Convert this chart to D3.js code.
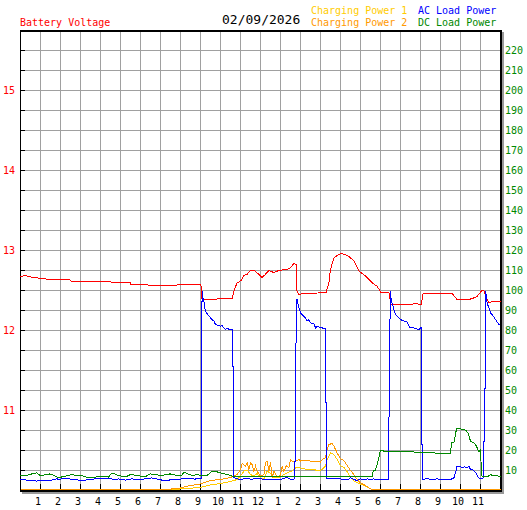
<!DOCTYPE html>
<html>
<head>
<meta charset="utf-8">
<script src="https://cdn.jsdelivr.net/npm/d3@7"></script>
<style>
  body { margin: 0; background: #fff; }
  svg text { font-family: "DejaVu Sans Mono", "Liberation Mono", monospace; }
</style>
</head>
<body>
<svg id="chart" width="527" height="510"></svg>
<script>
// hour labels along the bottom (1..12, 1..11)
var hourTicks = d3.range(1, 24);
var hourLabels = hourTicks.map(function (h) { return ((h - 1) % 12) + 1; });
var voltTicks = [11, 12, 13, 14, 15];
var powerTicks = d3.range(10, 230, 10);
var dateLabel = "02/09/2026";

// [hour, volts]
var batteryVoltage = [
  [0, 12.66], [0.23, 12.675], [0.65, 12.65], [1.32, 12.63], [2.4, 12.63], [2.57, 12.6], [4.48, 12.6],
  [4.57, 12.585], [5.48, 12.585], [5.52, 12.56], [7.73, 12.55], [7.9, 12.56], [9.02, 12.56],
  [9.08, 12.375], [9.33, 12.37], [9.97, 12.385], [10.58, 12.385], [10.67, 12.48], [10.83, 12.585],
  [11.0, 12.6], [11.17, 12.675], [11.33, 12.69], [11.5, 12.74], [11.67, 12.74], [11.92, 12.69],
  [12.08, 12.65], [12.25, 12.69], [12.42, 12.74], [12.67, 12.71], [12.92, 12.74], [13.33, 12.75],
  [13.5, 12.77], [13.67, 12.825], [13.78, 12.81], [13.82, 12.48], [13.92, 12.44], [14.17, 12.45],
  [15.28, 12.46], [15.42, 12.585], [15.5, 12.75], [15.67, 12.895], [15.92, 12.94], [16.08, 12.95],
  [16.42, 12.915], [16.67, 12.855], [16.92, 12.73], [17.25, 12.67], [17.58, 12.585], [17.83, 12.54],
  [18.03, 12.46], [18.42, 12.46], [18.53, 12.31], [19.58, 12.31], [19.65, 12.325], [19.83, 12.325],
  [19.9, 12.31], [20.03, 12.31], [20.13, 12.45], [21.58, 12.45], [21.83, 12.375], [22.42, 12.375],
  [22.67, 12.395], [22.83, 12.415], [23.08, 12.49], [23.17, 12.49], [23.3, 12.395], [23.42, 12.34],
  [23.67, 12.35], [24, 12.35]
];

// [hour, watts]
var chargingPower1 = [
  [0, 0], [7.8, 0], [8.0, 0.3], [9.0, 1.0], [9.5, 2.3], [10.0, 3], [10.5, 4.0], [10.83, 5], [11.0, 6.7],
  [11.17, 9.2], [11.33, 9.7], [11.5, 7.5], [11.67, 6.7], [11.83, 8], [12.0, 5.8], [12.17, 5.3],
  [12.33, 9.2], [12.5, 8], [12.67, 5.8], [13.0, 6.3], [13.25, 8], [13.42, 8.7], [13.58, 9.2],
  [13.75, 10.8], [14.0, 10.8], [14.33, 10], [14.67, 10], [14.92, 9.2], [15.08, 10], [15.25, 11.7],
  [15.33, 15], [15.5, 18.3], [15.67, 17.5], [15.83, 15], [16.0, 12], [16.17, 11], [16.33, 9],
  [16.5, 6], [16.67, 4.2], [16.92, 3], [17.17, 2], [17.42, 0.8], [17.6, 0], [24, 0]
];
var chargingPower2 = [
  [0, 0], [7.35, 0], [8.0, 0.8], [8.5, 2], [9.0, 2.8], [9.5, 4.5], [10.0, 5], [10.5, 6.0], [10.83, 7.5],
  [11.0, 10], [11.08, 13], [11.25, 11.7], [11.33, 13.3], [11.42, 10], [11.5, 13.3], [11.58, 12.5],
  [11.67, 9.2], [11.75, 11.7], [11.83, 9.2], [12.0, 6.7], [12.17, 7.5], [12.25, 13.3], [12.33, 14.2],
  [12.42, 9.2], [12.5, 13.7], [12.58, 5.8], [12.67, 9.2], [12.83, 6.3], [13.0, 7], [13.08, 11.7],
  [13.17, 9.2], [13.3, 12], [13.42, 10.8], [13.5, 15], [13.58, 14.2], [13.75, 14.2], [13.92, 15],
  [14.0, 14.2], [14.17, 14.7], [14.5, 14.2], [14.83, 14.2], [15.0, 13.7], [15.08, 15], [15.25, 15.8],
  [15.33, 20], [15.42, 22.5], [15.58, 23], [15.67, 21.7], [15.83, 18.3], [16.0, 15.5], [16.17, 14.5],
  [16.33, 12], [16.5, 9.5], [16.67, 7.5], [16.83, 5], [17.0, 3.3], [17.25, 2], [17.5, 0.3], [17.6, 0], [24, 0]
];
var acLoadPower = [
  [0, 5.0], [0.82, 4.2], [1.07, 4.7], [1.57, 4.7], [1.82, 5.3], [1.98, 5.0], [2.15, 5.7], [2.4, 5.3],
  [2.82, 5.0], [2.98, 4.3], [3.23, 4.7], [3.48, 5.0], [3.73, 5.3], [4.07, 5.3], [4.4, 5.7], [4.65, 5.0],
  [4.9, 5.3], [5.23, 4.7], [5.57, 5.3], [5.9, 5.0], [6.23, 5.3], [6.57, 5.8], [6.82, 5.3], [7.07, 4.7],
  [7.4, 4.7], [7.73, 5.0], [8.07, 5.3], [8.4, 5.7], [8.7, 5.2], [9.03, 5.5],
  [9.04, 51.7], [9.08, 99], [9.1, 96.7], [9.17, 94.2], [9.2, 90.8], [9.3, 88.3], [9.42, 86.7],
  [9.58, 85], [9.67, 84.2], [9.75, 82.5], [9.92, 82], [10.0, 81.5], [10.08, 82], [10.17, 80.8],
  [10.25, 80], [10.33, 80.8], [10.42, 80], [10.58, 80], [10.59, 61.7], [10.63, 61.7], [10.64, 23.3],
  [10.66, 23.3], [10.67, 6], [10.83, 5.3], [11.0, 5], [11.33, 5.7], [11.58, 5], [11.75, 5.7],
  [12.0, 5.3], [12.33, 5], [12.67, 5], [13.0, 5], [13.33, 6], [13.5, 5], [13.72, 5.3],
  [13.75, 50], [13.8, 95], [13.83, 95], [13.92, 90.8], [14.0, 88.3], [14.08, 87.5], [14.25, 85.8],
  [14.33, 84.2], [14.42, 85], [14.5, 83.3], [14.67, 83], [14.75, 80.8], [14.83, 81.5], [15.0, 81],
  [15.08, 80.8], [15.25, 80.3], [15.26, 43.3], [15.3, 43.3], [15.31, 5.5], [15.5, 5.3], [15.75, 5.7],
  [16.0, 5.3], [16.33, 4.7], [16.5, 5.8], [16.67, 5], [16.83, 4.5], [17.0, 5.3], [17.17, 4.7],
  [17.33, 5.3], [17.5, 5], [17.67, 5.3], [17.83, 5], [18.0, 5], [18.4, 5],
  [18.42, 29.2], [18.46, 75.8], [18.5, 99.2], [18.53, 95], [18.58, 93.3], [18.67, 90], [18.75, 87.5],
  [18.83, 86.7], [18.92, 85.8], [19.0, 85], [19.17, 84.2], [19.33, 83.7], [19.42, 81.7], [19.5, 80.8],
  [19.67, 80.8], [19.83, 80.3], [19.92, 80], [20.0, 80.8], [20.03, 80.8], [20.04, 43.3], [20.07, 43.3],
  [20.08, 5.3], [20.17, 5], [20.33, 5.7], [20.5, 5], [20.83, 5.3], [21.17, 5], [21.5, 5], [21.67, 5.8],
  [21.75, 8.3], [21.83, 11.7], [22.0, 11.3], [22.08, 10.8], [22.2, 11.3], [22.33, 10.8], [22.42, 11.7],
  [22.5, 10], [22.58, 10.3], [22.67, 9.2], [22.75, 8.7], [22.83, 7], [22.92, 5.8], [23.0, 5.3],
  [23.15, 5.8], [23.17, 24.2], [23.22, 24.2], [23.23, 67.5], [23.25, 99.2], [23.3, 96.7], [23.33, 93.3],
  [23.42, 90.8], [23.5, 88.3], [23.58, 87.5], [23.67, 86.3], [23.75, 85], [23.83, 83.7], [23.92, 82.5], [24, 82]
];
var dcLoadPower = [
  [0, 7.2], [0.15, 7.0], [0.4, 7.3], [0.57, 7.8], [0.82, 8.3], [0.98, 7.0], [1.2, 7.3], [1.48, 7.8],
  [1.65, 7.2], [1.9, 5.8], [2.07, 6.3], [2.4, 7.0], [2.57, 7.5], [2.82, 7.0], [3.07, 7.0], [3.23, 6.3],
  [3.48, 5.8], [3.82, 6.3], [4.07, 6.7], [4.4, 6.2], [4.57, 8.3], [4.9, 7.0], [5.23, 6.2], [5.57, 7.8],
  [5.73, 7.0], [6.0, 6.7], [6.23, 6.3], [6.48, 7.8], [6.73, 7.5], [6.98, 7.0], [7.2, 7.3], [7.48, 7.8],
  [7.73, 7.2], [8.07, 7.0], [8.17, 8.7], [8.33, 8.0], [8.58, 7.0], [8.83, 7.5], [9.03, 7.0], [9.33, 7.0],
  [9.58, 9.2], [9.83, 8.8], [10.0, 8.3], [10.33, 7.5], [10.58, 6.7], [10.83, 6.4], [10.9, 6.4],
  [17.6, 6.6], [17.63, 9.2], [17.75, 9.7], [17.83, 12.5], [17.92, 15.8], [18.0, 19.7], [18.17, 19.2],
  [18.25, 18.8], [19.67, 18.8], [19.83, 18.3], [20.08, 18.7], [20.67, 18.3], [21.0, 18.0], [21.5, 18.0],
  [21.55, 23.3], [21.67, 23.3], [21.8, 30.3], [22.0, 30.3], [22.25, 29.7], [22.37, 28.3], [22.5, 24.2],
  [22.67, 23.3], [22.78, 22], [22.87, 20], [22.92, 18.7], [23.0, 20], [23.05, 8.3], [23.08, 6.3],
  [23.33, 6.3], [23.5, 7.5], [23.67, 6.7], [23.83, 7.0], [24, 6.3]
];

var svg = d3.select("#chart");

var plotLeft = 20, plotRight = 500, plotTop = 30, plotBottom = 490;

var x = d3.scaleLinear().domain([0, 24]).range([plotLeft, plotRight]);
var yVolt = d3.scaleLinear().domain([10, 15.75]).range([plotBottom, plotTop]);
var yPower = d3.scaleLinear().domain([0, 230]).range([plotBottom, plotTop]);

// drop shadow + plot frame
svg.append("rect").attr("x", plotLeft + 2).attr("y", plotTop + 2)
    .attr("width", plotRight - plotLeft + 2).attr("height", plotBottom - plotTop + 2)
    .attr("fill", "#999");
svg.append("rect").attr("x", plotLeft).attr("y", plotTop)
    .attr("width", plotRight - plotLeft + 2).attr("height", plotBottom - plotTop + 2)
    .attr("fill", "#000");
svg.append("rect").attr("x", plotLeft + 1).attr("y", plotTop + 2)
    .attr("width", plotRight - plotLeft - 1).attr("height", plotBottom - plotTop - 2)
    .attr("fill", "#fff");

var grid = svg.append("g").attr("shape-rendering", "crispEdges");

grid.selectAll(".vgrid")
    .data(hourTicks)
    .enter()
    .append("line")
    .attr("class", "vgrid")
    .attr("x1", function (d) { return x(d) + 0.5; })
    .attr("x2", function (d) { return x(d) + 0.5; })
    .attr("y1", plotTop + 2)
    .attr("y2", plotBottom)
    .attr("stroke", "#a0a0a0");

grid.selectAll(".hgrid")
    .data(powerTicks)
    .enter()
    .append("line")
    .attr("class", "hgrid")
    .attr("x1", plotLeft + 1)
    .attr("x2", plotRight)
    .attr("y1", function (d) { return yPower(d) + 0.5; })
    .attr("y2", function (d) { return yPower(d) + 0.5; })
    .attr("stroke", "#a0a0a0");

// black tick stubs on the left and bottom edges
grid.selectAll(".ltick")
    .data(powerTicks)
    .enter()
    .append("line")
    .attr("x1", plotLeft)
    .attr("x2", plotLeft + 5)
    .attr("y1", function (d) { return yPower(d) + 0.5; })
    .attr("y2", function (d) { return yPower(d) + 0.5; })
    .attr("stroke", "#000");

grid.selectAll(".btick")
    .data(hourTicks)
    .enter()
    .append("line")
    .attr("x1", function (d) { return x(d) + 0.5; })
    .attr("x2", function (d) { return x(d) + 0.5; })
    .attr("y1", plotBottom - 6)
    .attr("y2", plotBottom)
    .attr("stroke", "#000");

var plot = svg.append("g")
    .attr("transform", "translate(0.5,-0.5)")
    .attr("shape-rendering", "crispEdges");

function addLine(data, yScale, color) {
    var line = d3.line()
        .x(function (d) { return x(d[0]); })
        .y(function (d) { return yScale(d[1]); });
    plot.append("path")
        .datum(data)
        .attr("d", line)
        .attr("fill", "none")
        .attr("stroke", color)
        .attr("stroke-width", 1);
}

addLine(batteryVoltage, yVolt, "#ff0000");
addLine(chargingPower1, yPower, "#ffcc00");
addLine(chargingPower2, yPower, "#ff9900");
addLine(acLoadPower, yPower, "#0000ff");
addLine(dcLoadPower, yPower, "#008800");

// axis labels
svg.selectAll(".vlab")
    .data(voltTicks)
    .enter()
    .append("text")
    .attr("x", 15)
    .attr("y", function (d) { return yVolt(d) + 4; })
    .attr("text-anchor", "end")
    .attr("font-size", 10)
    .attr("fill", "#ff0000")
    .text(function (d) { return d; });

svg.selectAll(".plab")
    .data(powerTicks)
    .enter()
    .append("text")
    .attr("x", 505)
    .attr("y", function (d) { return yPower(d) + 4; })
    .attr("font-size", 10)
    .attr("fill", "#008800")
    .text(function (d) { return d; });

svg.selectAll(".hlab")
    .data(hourTicks)
    .enter()
    .append("text")
    .attr("x", function (d) { return x(d) - 2; })
    .attr("y", 505)
    .attr("text-anchor", "middle")
    .attr("font-size", 10)
    .attr("fill", "#000")
    .text(function (d, i) { return hourLabels[i]; });

// header / legend
svg.append("text").attr("x", 20).attr("y", 26).attr("font-size", 10).attr("fill", "#ff0000").text("Battery Voltage");
svg.append("text").attr("x", 222).attr("y", 24).attr("font-size", 13).attr("fill", "#000").text(dateLabel);
svg.append("text").attr("x", 311).attr("y", 14).attr("font-size", 10).attr("fill", "#ffcc00").text("Charging Power 1");
svg.append("text").attr("x", 311).attr("y", 26).attr("font-size", 10).attr("fill", "#ff9900").text("Charging Power 2");
svg.append("text").attr("x", 418).attr("y", 14).attr("font-size", 10).attr("fill", "#0000ff").text("AC Load Power");
svg.append("text").attr("x", 418).attr("y", 26).attr("font-size", 10).attr("fill", "#008800").text("DC Load Power");
</script>
</body>
</html>
